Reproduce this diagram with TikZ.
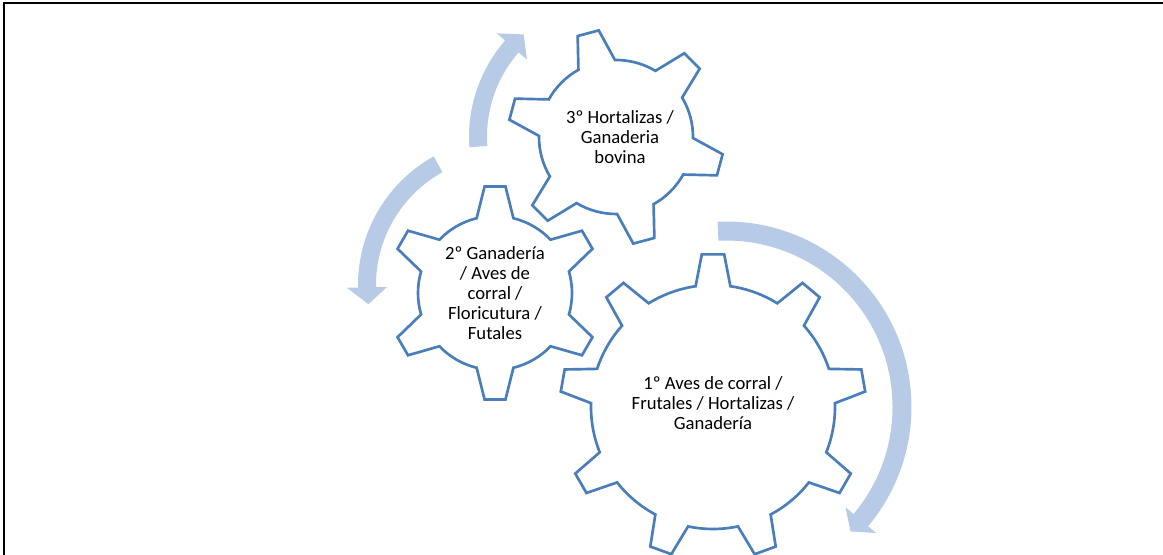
\documentclass[tikz,border=0pt]{standalone}
\usepackage{fontspec}
\setmainfont{Carlito}
\usepackage{tikz}
\usetikzlibrary{calc}
\definecolor{gearblue}{RGB}{74,126,187}
\definecolor{flowblue}{RGB}{183,203,231}
\tikzstyle{gear} = [draw=gearblue, line width=2pt, line join=miter]
\tikzstyle{geartext} = [align=center, font=\fontsize{14}{15}\selectfont, text=black]
\tikzstyle{flow} = [fill=flowblue]

% #1 centre, #2 teeth, #3 first tooth angle, #4 tip radius, #5 root radius,
% #6 half angle at tip, #7 half angle at root
\newcommand{\drawgear}[7]{%
  \begin{scope}[shift={(#1)}]
    \pgfmathsetmacro{\gstep}{360/#2}
    \draw[gear] ({#3-#7}:#5)
      \foreach \k in {1,...,#2}{
        -- ({#3+(\k-1)*\gstep-#6}:#4) -- ({#3+(\k-1)*\gstep+#6}:#4)
        -- ({#3+(\k-1)*\gstep+#7}:#5)
        arc[start angle={#3+(\k-1)*\gstep+#7}, delta angle={\gstep-2*#7}, radius=#5]
      } -- cycle;
  \end{scope}
}

% #1 centre, #2 radius, #3 half width, #4 start angle, #5 end angle, #6 tip angle
\newcommand{\flowarrow}[6]{%
  \begin{scope}[shift={(#1)}]
    \fill[flow] ({#4}:{#2+#3}) arc[start angle={#4}, end angle={#5}, radius={#2+#3}]
      -- ({#5}:{#2+20}) -- ({#6}:{#2}) -- ({#5}:{#2-20}) -- ({#5}:{#2-#3})
      arc[start angle={#5}, end angle={#4}, radius={#2-#3}] -- cycle;
  \end{scope}
}

\begin{document}
\begin{tikzpicture}[x=0.75pt, y=0.75pt]
   \useasboundingbox (0,0) rectangle (1163,555);
   \draw [line width=1pt] (4,0) -- (4,552) -- (1163,552);
   % gear centres
   \coordinate (c1) at (713,148);
   \coordinate (c2) at (495,262);
   \coordinate (c3) at (616,418);
   % texts
   \node [geartext] (first) at (713,152) {1º Aves de corral /\\Frutales / Hortalizas /\\Ganadería};
   \node [geartext] (second) at (495,262) {2º Ganadería\\/ Aves de\\corral /\\Floricutura /\\Futales};
   \node [geartext] (third) at (620,418) {3º Hortalizas /\\Ganaderia\\bovina};
   % gears
   \drawgear{c1}{9}{90}{153}{122}{4.2}{8.2}
   \drawgear{c2}{6}{90}{107}{77}{5.6}{13.8}
   \drawgear{c3}{6}{105}{108}{77}{5.8}{14.2}
   % arrows round the gears
   \coordinate (a1) at (726,148);
   \coordinate (a2) at (505,270);
   \coordinate (a3) at (616,418);
   \flowarrow{a1}{176}{9.5}{92.6}{-40}{-45}
   \flowarrow{a2}{138}{9}{119}{181}{188}
   \flowarrow{a3}{138}{9}{184}{139}{132}
\end{tikzpicture}
\end{document}
